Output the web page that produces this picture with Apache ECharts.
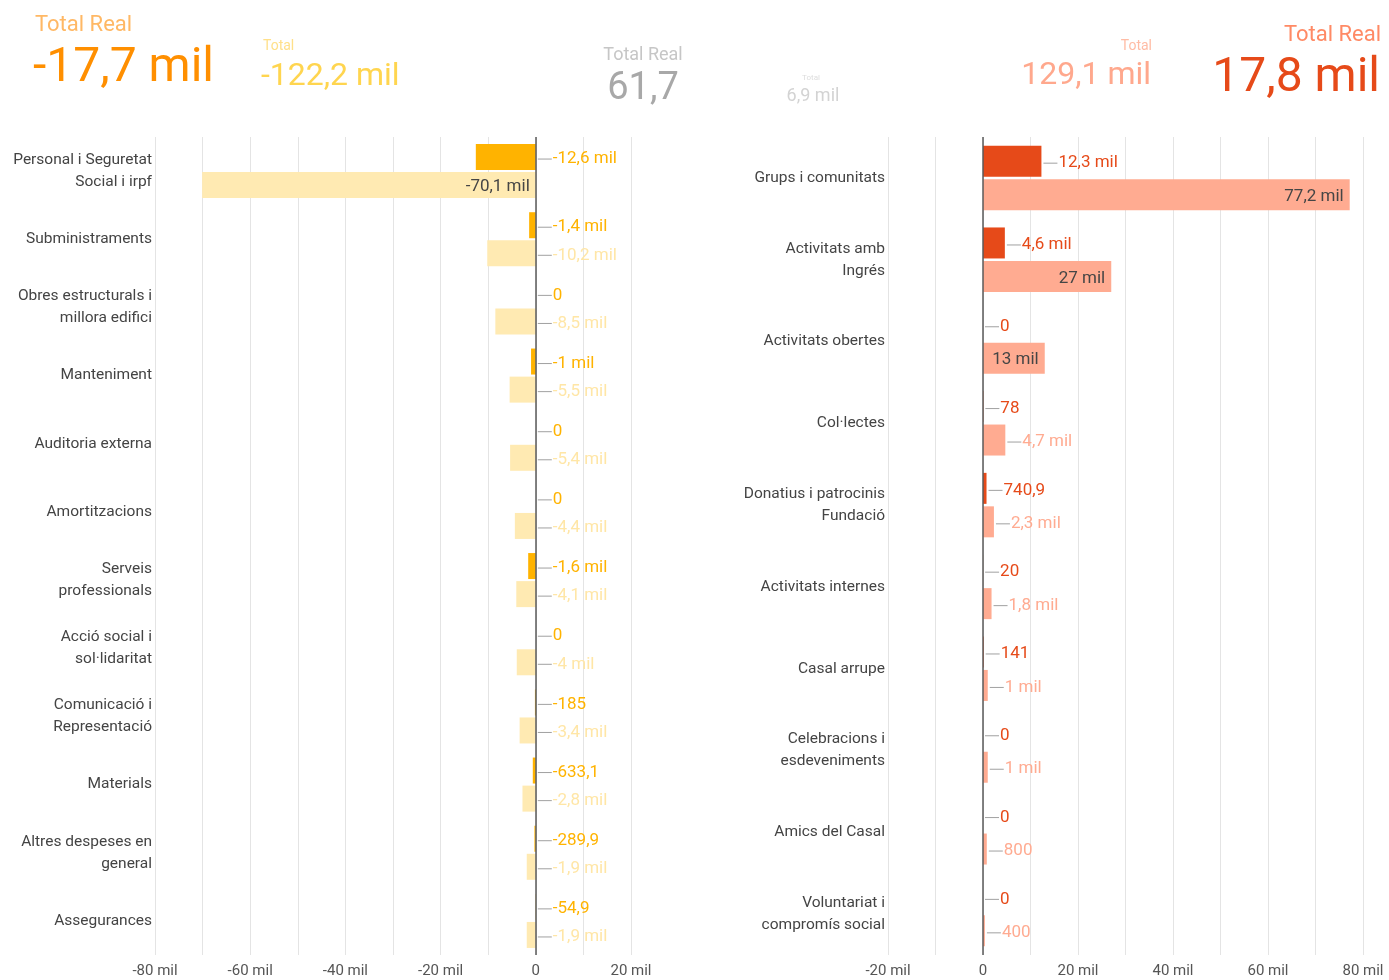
<!DOCTYPE html>
<html>
<head>
<meta charset="utf-8">
<script src="https://cdn.jsdelivr.net/npm/echarts@6/dist/echarts.min.js"></script>
<style>
html,body{margin:0;padding:0;background:#fff;}
#c{width:1389px;height:980px;}
</style>
</head>
<body>
<div id="c"></div>
<script>
// ---- data ----
const leftCategories = [
  'Personal i Seguretat\nSocial i irpf', 'Subministraments', 'Obres estructurals i\nmillora edifici',
  'Manteniment', 'Auditoria externa', 'Amortitzacions', 'Serveis\nprofessionals',
  'Acció social i\nsol·lidaritat', 'Comunicació i\nRepresentació', 'Materials',
  'Altres despeses en\ngeneral', 'Assegurances'
];
const leftReal  = [-12600, -1400, 0, -1000, 0, 0, -1600, 0, -185, -633.1, -289.9, -54.9];
const leftTotal = [-70100, -10200, -8500, -5500, -5400, -4400, -4100, -4000, -3400, -2800, -1900, -1900];

const rightCategories = [
  'Grups i comunitats', 'Activitats amb\nIngrés', 'Activitats obertes', 'Col·lectes',
  'Donatius i patrocinis\nFundació', 'Activitats internes', 'Casal arrupe',
  'Celebracions i\nesdeveniments', 'Amics del Casal', 'Voluntariat i\ncompromís social'
];
const rightReal  = [12300, 4600, 0, 78, 740.9, 20, 141, 0, 0, 0];
const rightTotal = [77200, 27000, 13000, 4700, 2300, 1800, 1000, 1000, 800, 400];

const seriesNames = ['Total Real', 'Total'];
const kpiTitles = ['Total Real', 'Total', 'Total Real', 'Total', 'Total', 'Total Real'];
const kpiValues = ['-17,7 mil', '-122,2 mil', '61,7', '6,9 mil', '129,1 mil', '17,8 mil'];

// ---- helpers ----
function fmt(v) {
  const a = Math.abs(v);
  if (a === 0) return '0';
  if (a >= 1000) return String(Math.round(v / 100) / 10).replace('.', ',') + ' mil';
  return String(Math.round(v * 10) / 10).replace('.', ',');
}
function axisFmt(v) { return (v % 20000 === 0) ? fmt(v) : ''; }

const FONT = 'Roboto';
const INSIDE_MIN = 13000;

function barSeries(idx, name, data, color, labelColor, barWidth) {
  return {
    type: 'bar', name: name, xAxisIndex: idx, yAxisIndex: idx,
    data: data, barWidth: barWidth, barGap: '8%',
    itemStyle: { color: color },
    label: {
      show: true, position: 'right', distance: 2, fontFamily: FONT, offset: [0, 2],
      formatter: function (p) {
        if (Math.abs(p.value) >= INSIDE_MIN) return '{d|' + fmt(p.value) + '}';
        return '{l| }{v|' + fmt(p.value) + '}';
      },
      rich: {
        l: { width: 14, height: 1, backgroundColor: '#A0A0A0' },
        v: { color: labelColor, fontSize: 17, fontFamily: FONT, padding: [0, 0, 0, 1] },
        d: { color: '#454545', fontSize: 17, fontFamily: FONT }
      }
    },
    emphasis: { disabled: true },
    silent: true
  };
}
function withInside(data) {
  return data.map(function (v) {
    return Math.abs(v) >= INSIDE_MIN ? { value: v, label: { position: 'insideRight', distance: 6 } } : v;
  });
}

const zeroLine = {
  silent: true, symbol: 'none', label: { show: false },
  lineStyle: { color: '#5a5a5a', width: 1.5, type: 'solid' },
  data: [{ xAxis: 0 }]
};

function xAxisDef(idx, min, max) {
  return {
    type: 'value', gridIndex: idx, min: min, max: max, interval: 10000,
    axisLine: { show: false }, axisTick: { show: false },
    splitLine: { show: true, lineStyle: { color: '#E4E4E4', width: 1 } },
    axisLabel: { formatter: axisFmt, color: '#555', fontSize: 15, fontFamily: FONT, margin: 9 }
  };
}
function yAxisDef(idx, cats) {
  return {
    type: 'category', gridIndex: idx, data: cats, inverse: true,
    axisLine: { show: false }, axisTick: { show: false }, splitLine: { show: false },
    axisLabel: { color: '#444', fontSize: 15.5, fontFamily: FONT, lineHeight: 22, margin: 3, align: 'right' }
  };
}

const s0 = barSeries(0, seriesNames[0], leftReal, '#FFB300', '#FFB300', 26);
s0.markLine = zeroLine;
const s1 = barSeries(0, seriesNames[1], withInside(leftTotal), '#FFEAB2', '#FFE6A6', 26);
const s2 = barSeries(1, seriesNames[0], rightReal, '#E64A19', '#E64A19', 31);
s2.markLine = zeroLine;
const s3 = barSeries(1, seriesNames[1], withInside(rightTotal), '#FFAB91', '#FFAB91', 31);

// header KPI texts
const kpiStyle = [
  // [titleX, titleY, titleSize, titleColor, valueX, valueY, valueSize, valueColor, align]
  [35, 25, 22, '#FFB865', 33, 69, 48, '#FF8F00', 'left'],
  [263, 46, 14, '#FFE08A', 261, 77, 32, '#FFD54F', 'left'],
  [643, 55, 18, '#C6C6C6', 643, 89, 38, '#A8A8A8', 'center'],
  [811, 78, 8, '#DDDDDD', 813, 96, 18, '#D3D3D3', 'center'],
  [1152, 46, 14, '#FFBCA5', 1151, 76, 32, '#FFA88D', 'right'],
  [1381, 35, 22, '#FF8A65', 1380, 79, 48, '#E64A19', 'right']
];
const graphics = [];
kpiTitles.forEach(function (t, i) {
  const s = kpiStyle[i];
  graphics.push({ type: 'text', silent: true, style: { text: t, x: s[0], y: s[1], fontSize: s[2], fill: s[3], fontFamily: FONT, align: s[8], verticalAlign: 'middle' } });
  graphics.push({ type: 'text', silent: true, style: { text: kpiValues[i], x: s[4], y: s[5], fontSize: s[6], fill: s[7], fontFamily: FONT, align: s[8], verticalAlign: 'middle' } });
});

const chart = echarts.init(document.getElementById('c'), null, { renderer: 'canvas' });
chart.setOption({
  animation: false,
  backgroundColor: '#ffffff',
  textStyle: { fontFamily: FONT },
  grid: [
    { left: 155, right: 758, top: 137, bottom: 25, containLabel: false },
    { left: 888, right: 26, top: 137, bottom: 25, containLabel: false }
  ],
  xAxis: [xAxisDef(0, -80000, 20000), xAxisDef(1, -20000, 80000)],
  yAxis: [yAxisDef(0, leftCategories), yAxisDef(1, rightCategories)],
  series: [s0, s1, s2, s3],
  graphic: graphics
});
</script>
</body>
</html>
